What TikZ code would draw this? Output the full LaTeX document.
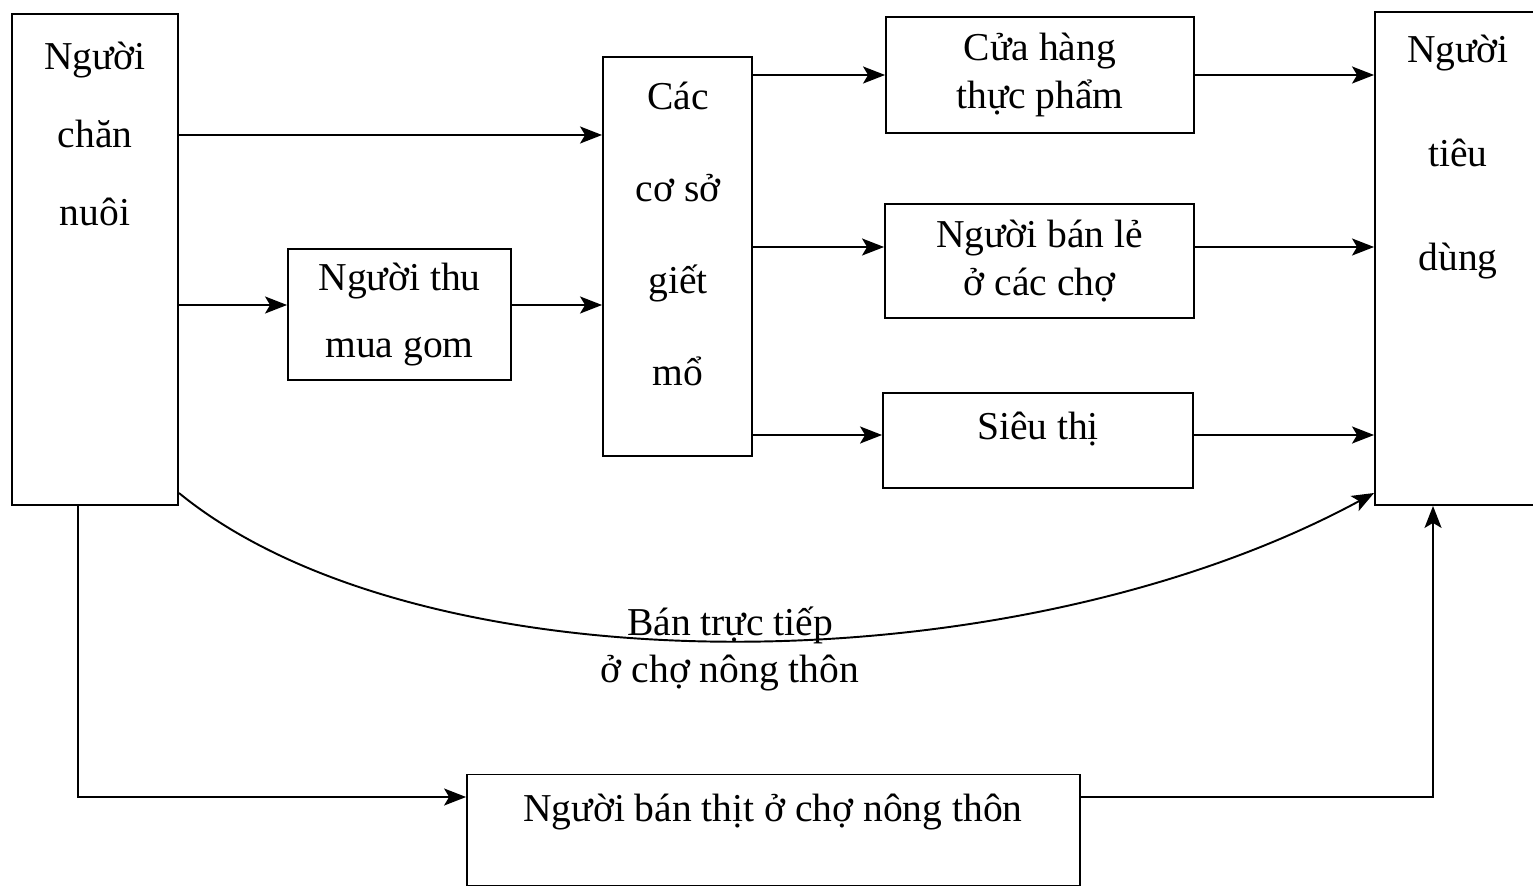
\documentclass[tikz,border=0pt]{standalone}
\usepackage{fontspec}
\setmainfont{Liberation Serif}
\usetikzlibrary{arrows.meta, positioning}

\tikzset{
  box/.style  = {draw, rectangle, line width=1.1pt, inner sep=0pt, align=center},
  txt/.style  = {draw=none, align=center, inner sep=0pt},
  flow/.style = {draw, line width=1.1pt, -{Stealth[length=0.44cm, width=0.34cm, inset=0.1cm]}},
}

\begin{document}
\begin{tikzpicture}[x=0.02cm, y=-0.02cm, font=\fontsize{22.5}{27}\selectfont]
\useasboundingbox (0,0) rectangle (1533,888);

% boxes
\node [box, minimum width=3.32cm, minimum height=9.82cm] at (95,259.5)    (chan)  {};
\node [box, minimum width=4.46cm, minimum height=2.62cm] at (399.5,314.5) (thu)   {Người thu\\[0.4cm]mua gom};
\node [box, minimum width=2.98cm, minimum height=7.98cm] at (677.5,256.5) (giet)  {};
\node [box, minimum width=6.16cm, minimum height=2.32cm] at (1040,75)     (cua)   {Cửa hàng\\thực phẩm};
\node [box, minimum width=6.18cm, minimum height=2.28cm] at (1039.5,261)  (banle) {Người bán lẻ\\ở các chợ};
\node [box, minimum width=6.20cm, minimum height=1.90cm] at (1038,440.5)  (sieu)  {};
\node [box, minimum width=3.70cm, minimum height=9.86cm] at (1467.5,258.5)(tieu)  {};
\node [box, minimum width=12.26cm,minimum height=2.22cm] at (773.5,830)   (thit)  {};

% texts sitting near the top of the tall boxes
\node [txt] at (95,134)   (chanT) {Người\\[0.61cm]chăn\\[0.61cm]nuôi};
\node [txt] at (678,234)  (gietT) {Các\\[0.89cm]cơ sở\\[0.89cm]giết\\[0.89cm]mổ};
\node [txt] at (1458,157) (tieuT) {Người\\[1.13cm]tiêu\\[1.13cm]dùng};
\node [txt] at (1038,429) (sieuT) {Siêu thị};
\node [txt] at (773,812)  (thitT) {Người bán thịt ở chợ nông thôn};

% rows of the arrows
\coordinate (r1) at (0,135);
\coordinate (r2) at (0,305);
\coordinate (r4) at (0,247);
\coordinate (r5) at (0,435);
\coordinate (cv) at (0,493);
\coordinate (lc) at (78,797);
\coordinate (rc) at (1433,797);

\path [flow] (chan.east |- r1) -- (giet.west |- r1);
\path [flow] (chan.east |- r2) -- (thu.west |- r2);
\path [flow] (thu.east |- r2)  -- (giet.west |- r2);

\path [flow] (giet.east |- cua.west) -- (cua.west);
\path [flow] (giet.east |- r4)       -- (banle.west |- r4);
\path [flow] (giet.east |- r5)       -- (sieu.west |- r5);

\path [flow] (cua.east)         -- (tieu.west |- cua.east);
\path [flow] (banle.east |- r4) -- (tieu.west |- r4);
\path [flow] (sieu.east |- r5)  -- (tieu.west |- r5);

% direct sale
\path [flow] (chan.east |- cv) .. controls (420,690) and (1010,690) .. (tieu.west |- cv);
\node [txt] at (730,649) (ban) {Bán trực tiếp\\ở chợ nông thôn};

% through the rural market
\path [flow] (chan.south -| lc) |- (thit.west |- lc);
\path [flow] (thit.east |- rc)  -| (tieu.south -| rc);

\end{tikzpicture}
\end{document}
